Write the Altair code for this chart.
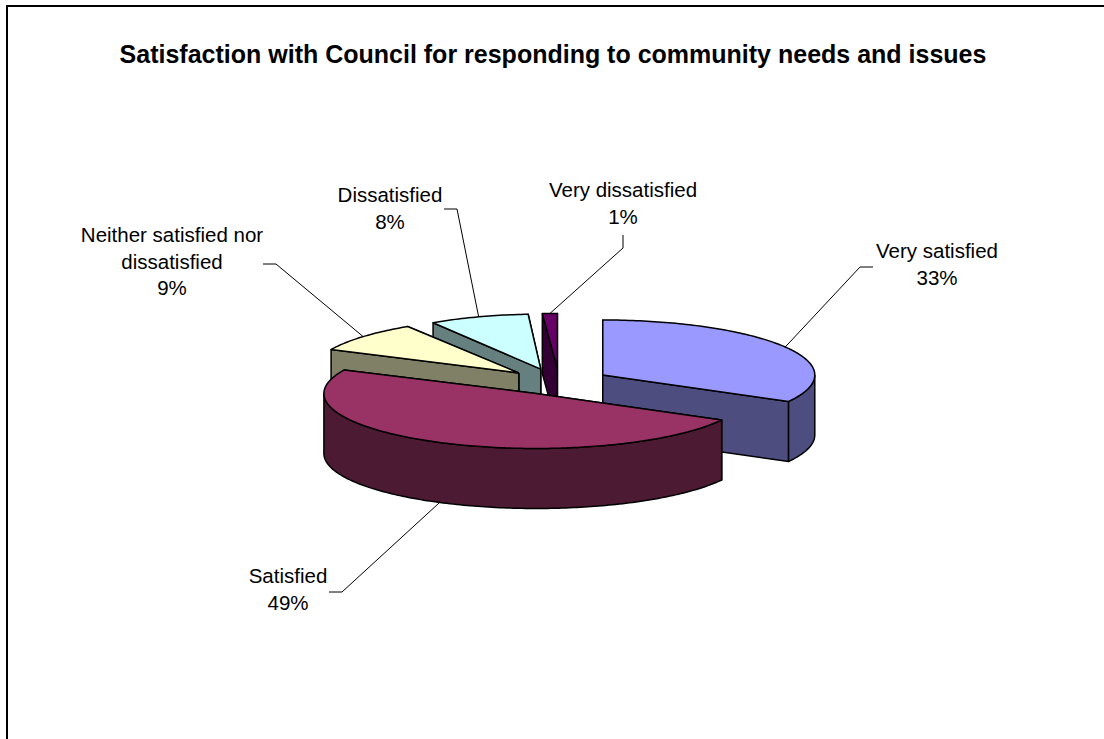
import math
import altair as alt
import pandas as pd

# Survey responses, in pie order clockwise from twelve o'clock
categories = ["Very satisfied", "Satisfied", "Neither satisfied nor dissatisfied",
              "Dissatisfied", "Very dissatisfied"]
shares = [33, 49, 9, 8, 1]

top_colors = ["#9999FF", "#993366", "#FFFFCC", "#CCFFFF", "#660066"]
side_colors = ["#4D4D80", "#4D1A33", "#808066", "#668080", "#330033"]

# Text blocks: wrapped label, centre x and top y
label_lines = [["Very satisfied"], ["Satisfied"], ["Neither satisfied nor", "dissatisfied"],
               ["Dissatisfied"], ["Very dissatisfied"]]
label_x = [937, 288, 172, 390, 623]
label_y = [252, 577, 236, 196, 191]
# Leader-line knee and end beside the text
elbow_x = [860, 342, 276, 457, 623]
elbow_y = [267, 592, 264, 209, 248]
end_x = [873, 329, 263, 444, 623]
end_y = [267, 592, 264, 209, 235]

# Tilted pie geometry in page units
WIDTH, HEIGHT = 1104, 739
CX, CY = 559, 381.7
RY = 55
DEPTH = 60
EXPLODE = 0.24
LINE_GAP = 26.5
FONT = "Liberation Sans"
# Horizontal radius per slice (the far slices recede) and sideways nudge of their centres
slice_rx = [212, 212, 207.5, 201, 240]
nudge_x = [0, 0, -2, -2.5, 0]

x_scale = alt.Scale(domain=[0, WIDTH], range=[0, WIDTH])
y_scale = alt.Scale(domain=[HEIGHT, 0], range=[HEIGHT, 0])


def polar(cx, cy, deg, rx):
    a = math.radians(deg)
    return cx + rx * math.sin(a), cy - RY * math.cos(a)


def polygon(points, fill):
    """One closed outlined shape drawn through the page scales."""
    rows = [{"x": x, "y": y, "i": i} for i, (x, y) in enumerate(points + points[:1])]
    return alt.Chart(pd.DataFrame(rows)).mark_line(
        fill=fill, stroke="black", strokeWidth=1.5, strokeJoin="round", interpolate="linear"
    ).encode(
        x=alt.X("x:Q", scale=x_scale, axis=None),
        y=alt.Y("y:Q", scale=y_scale, axis=None),
        order="i:Q",
    )


def polyline(points, width=1.0):
    rows = [{"x": x, "y": y, "i": i} for i, (x, y) in enumerate(points)]
    return alt.Chart(pd.DataFrame(rows)).mark_line(
        stroke="black", strokeWidth=width
    ).encode(
        x=alt.X("x:Q", scale=x_scale, axis=None),
        y=alt.Y("y:Q", scale=y_scale, axis=None),
        order="i:Q",
    )


# Angular extent and exploded centre of every slice
slices = []
start = 0.0
for idx, share in enumerate(shares):
    end = start + share * 3.6
    mid = math.radians((start + end) / 2)
    cx = CX + EXPLODE * 212 * math.sin(mid) + nudge_x[idx]
    cy = CY - EXPLODE * RY * math.cos(mid)
    slices.append((start, end, cx, cy))
    start = end

layers = []
# Painted from the back of the pie to the front
for idx in [4, 3, 2, 0, 1]:
    a0, a1, cx, cy = slices[idx]
    rx = slice_rx[idx]
    top = top_colors[idx]
    side = side_colors[idx]

    # Radial cut walls, the one further back first
    walls = []
    for a in (a0, a1):
        px, py = polar(cx, cy, a, rx)
        walls.append((py, [(cx, cy), (px, py), (px, py + DEPTH), (cx, cy + DEPTH)]))
    walls.sort(key=lambda w: w[0])
    layers += [polygon(w[1], side) for w in walls]

    # Outer rim where it faces the viewer
    r0, r1 = max(a0, 90), min(a1, 270)
    if r1 > r0:
        steps = max(int(r1 - r0), 2)
        arc = [polar(cx, cy, r0 + (r1 - r0) * k / steps, rx) for k in range(steps + 1)]
        layers.append(polygon(arc + [(x, y + DEPTH) for x, y in reversed(arc)], side))

    # Top face
    steps = max(int(a1 - a0), 2)
    arc = [polar(cx, cy, a0 + (a1 - a0) * k / steps, rx) for k in range(steps + 1)]
    layers.append(polygon([(cx, cy)] + arc, top))

# Leader lines run from the middle of each slice's visible edge
for idx in range(len(shares)):
    a0, a1, cx, cy = slices[idx]
    ax, ay = polar(cx, cy, (a0 + a1) / 2, slice_rx[idx])
    if idx == 1:
        ay += DEPTH
    layers.append(polyline([(ax, ay), (elbow_x[idx], elbow_y[idx]), (end_x[idx], end_y[idx])]))

# Category names with their percentages underneath
text_rows = []
for idx, lines in enumerate(label_lines):
    for n, line in enumerate(lines + [f"{shares[idx]}%"]):
        text_rows.append({"x": label_x[idx], "y": label_y[idx] + n * LINE_GAP, "t": line})
layers.append(
    alt.Chart(pd.DataFrame(text_rows)).mark_text(
        font=FONT, fontSize=20.5, color="black", align="center", baseline="middle"
    ).encode(
        x=alt.X("x:Q", scale=x_scale, axis=None),
        y=alt.Y("y:Q", scale=y_scale, axis=None),
        text="t:N",
    )
)

# Chart title
layers.append(
    alt.Chart(pd.DataFrame([{"x": 553, "y": 55,
                             "t": "Satisfaction with Council for responding to community needs and issues"}]))
    .mark_text(font=FONT, fontSize=25, fontWeight="bold", color="black", align="center", baseline="middle")
    .encode(
        x=alt.X("x:Q", scale=x_scale, axis=None),
        y=alt.Y("y:Q", scale=y_scale, axis=None),
        text="t:N",
    )
)

# Frame around the chart area, running off the page at right and bottom
layers.append(polyline([(7, HEIGHT), (7, 6), (WIDTH, 6)], width=2))

chart = alt.layer(*layers).properties(
    width=WIDTH, height=HEIGHT, padding=0,
    autosize=alt.AutoSizeParams(type="none"),
    background="white",
).configure_view(stroke=None)

chart.save("out.html", embed_options={"renderer": "svg", "actions": False})
